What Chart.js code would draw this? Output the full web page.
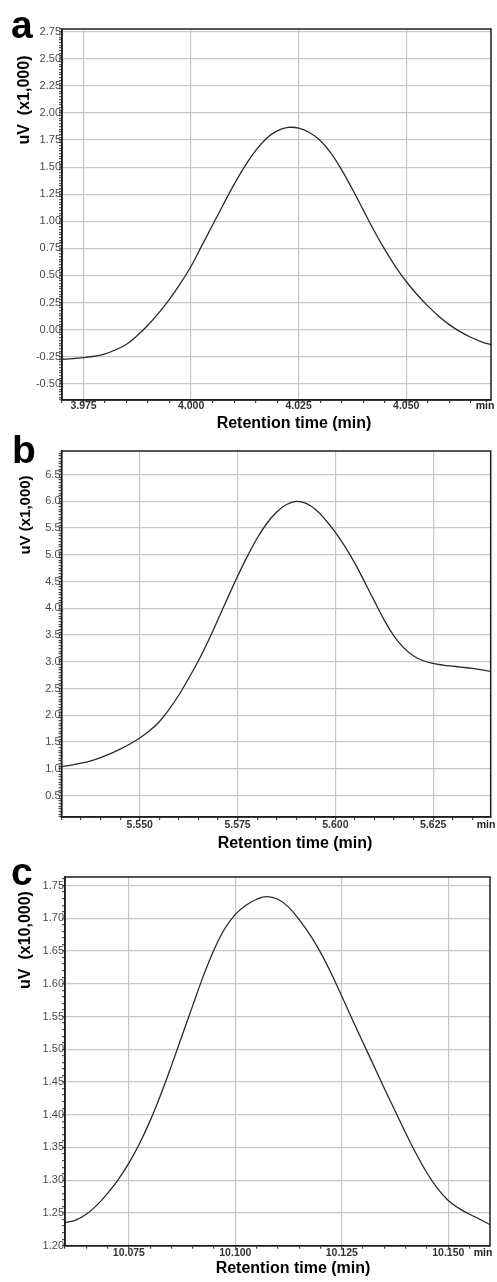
<!DOCTYPE html>
<html>
<head>
<meta charset="utf-8">
<script src="https://cdn.jsdelivr.net/npm/chart.js@4.4.1/dist/chart.umd.min.js"></script>
<style>
  html, body { margin: 0; padding: 0; background: #fff; }
  #wrap { position: relative; width: 497px; height: 1282px; }
  canvas { position: absolute; left: 0; }
  #chartA { top: 0; }
  #chartB { top: 430px; }
  #chartC { top: 860px; }
</style>
</head>
<body>
<div id="wrap">
  <canvas id="chartA" width="497" height="432"></canvas>
  <canvas id="chartB" width="497" height="430"></canvas>
  <canvas id="chartC" width="497" height="422"></canvas>
</div>
<script>
// panel a: retention time (min) vs signal (uV x1,000)
const timeA = [3.9700, 3.9725, 3.9750, 3.9775, 3.9800, 3.9825, 3.9850, 3.9875, 3.9900, 3.9925,
  3.9950, 3.9975, 4.0000, 4.0025, 4.0050, 4.0075, 4.0100, 4.0125, 4.0150, 4.0175,
  4.0200, 4.0225, 4.0250, 4.0275, 4.0300, 4.0325, 4.0350, 4.0375, 4.0400, 4.0425,
  4.0450, 4.0475, 4.0500, 4.0525, 4.0550, 4.0575, 4.0600, 4.0625, 4.0650, 4.0675, 4.0697];
const signalA = [-0.274, -0.268, -0.259, -0.246, -0.224, -0.186, -0.135, -0.055, 0.042, 0.155,
  0.282, 0.425, 0.585, 0.775, 0.965, 1.155, 1.340, 1.510, 1.652, 1.765,
  1.835, 1.866, 1.860, 1.820, 1.745, 1.630, 1.475, 1.295, 1.105, 0.915,
  0.740, 0.582, 0.444, 0.324, 0.219, 0.126, 0.046, -0.019, -0.071, -0.113, -0.140];

// panel b: uV x1,000
const timeB = [5.5300, 5.5325, 5.5350, 5.5375, 5.5400, 5.5425, 5.5450, 5.5475, 5.5500, 5.5525,
  5.5550, 5.5575, 5.5600, 5.5625, 5.5650, 5.5675, 5.5700, 5.5725, 5.5750, 5.5775,
  5.5800, 5.5825, 5.5850, 5.5875, 5.5900, 5.5925, 5.5950, 5.5975, 5.6000, 5.6025,
  5.6050, 5.6075, 5.6100, 5.6125, 5.6150, 5.6175, 5.6200, 5.6225, 5.6250, 5.6275,
  5.6300, 5.6325, 5.6350, 5.6375, 5.6397];
const signalB = [1.04, 1.07, 1.105, 1.15, 1.21, 1.285, 1.37, 1.465, 1.575, 1.71,
  1.88, 2.11, 2.38, 2.69, 3.02, 3.39, 3.79, 4.20, 4.60, 4.97,
  5.31, 5.59, 5.80, 5.94, 6.00, 5.96, 5.84, 5.65, 5.42, 5.15,
  4.84, 4.49, 4.13, 3.78, 3.48, 3.26, 3.11, 3.02, 2.97, 2.94,
  2.918, 2.898, 2.876, 2.849, 2.82];

// panel c: uV x10,000
const timeC = [10.0600, 10.0625, 10.0650, 10.0675, 10.0700, 10.0725, 10.0750, 10.0775, 10.0800, 10.0825,
  10.0850, 10.0875, 10.0900, 10.0925, 10.0950, 10.0975, 10.1000, 10.1025, 10.1050, 10.1074,
  10.1100, 10.1125, 10.1150, 10.1175, 10.1200, 10.1225, 10.1250, 10.1275, 10.1300, 10.1325,
  10.1350, 10.1375, 10.1400, 10.1425, 10.1450, 10.1475, 10.1500, 10.1525, 10.1550, 10.1575, 10.1598];
const signalC = [1.235, 1.239, 1.248, 1.262, 1.280, 1.301, 1.326, 1.356, 1.391, 1.431,
  1.475, 1.521, 1.567, 1.612, 1.652, 1.684, 1.706, 1.720, 1.729, 1.733,
  1.729, 1.717, 1.698, 1.675, 1.648, 1.616, 1.581, 1.545, 1.510, 1.475,
  1.440, 1.406, 1.372, 1.340, 1.311, 1.287, 1.269, 1.257, 1.248, 1.240, 1.232];

const xTitle = 'Retention time (min)';
const FONT = '"Liberation Sans", Arial, sans-serif';

function isMajor(v, step) {
  const r = v / step;
  return Math.abs(r - Math.round(r)) < 1e-6;
}

function fmt(v, dec) {
  return (Math.abs(v) < 1e-9 ? 0 : v).toFixed(dec);
}

// frame, panel letter, axis titles and the "min" unit label
const panelText = {
  id: 'panelText',
  afterDraw(chart, args, o) {
    const { ctx, chartArea: a } = chart;
    ctx.save();
    ctx.strokeStyle = '#1e1e1e';
    ctx.lineWidth = 1.5;
    ctx.strokeRect(a.left, a.top, a.right - a.left, a.bottom - a.top);

    ctx.fillStyle = '#000';
    ctx.textAlign = 'left';
    ctx.textBaseline = 'alphabetic';
    ctx.font = 'bold 39px ' + FONT;
    ctx.fillText(o.letter, o.letterX, o.letterY);

    ctx.textAlign = 'center';
    ctx.textBaseline = 'middle';
    ctx.font = 'bold 16px ' + FONT;
    ctx.fillText(xTitle, o.xTitleX, o.xTitleY);

    ctx.save();
    ctx.translate(o.yTitleX, o.yTitleY);
    ctx.rotate(-Math.PI / 2);
    ctx.font = 'bold ' + o.yTitleSize + 'px ' + FONT;
    ctx.fillText(o.yTitle, 0, 0);
    ctx.restore();

    ctx.fillStyle = '#222';
    ctx.font = 'bold 10.5px ' + FONT;
    ctx.fillText('min', o.minX, o.minY);
    ctx.restore();
  }
};

function makePanel(id, p) {
  const ctx = document.getElementById(id).getContext('2d');
  return new Chart(ctx, {
    type: 'line',
    data: {
      datasets: [{
        data: p.time.map((t, i) => ({ x: t, y: p.signal[i] })),
        borderColor: '#2a2a2a',
        borderWidth: 1.3,
        pointRadius: 0,
        fill: false,
        tension: 0.4
      }]
    },
    options: {
      responsive: false,
      animation: false,
      layout: { padding: { top: p.padTop, right: p.padRight, left: 0, bottom: 0 } },
      plugins: {
        legend: { display: false },
        tooltip: { enabled: false },
        panelText: p.text
      },
      scales: {
        x: {
          type: 'linear',
          min: p.xMin,
          max: p.xMax,
          ticks: {
            stepSize: 0.005,
            includeBounds: false,
            autoSkip: false,
            maxRotation: 0,
            padding: p.xPad,
            color: '#333',
            font: { family: FONT, size: 10.5, weight: 'bold' },
            callback: v => isMajor(v, 0.025) ? fmt(v, 3) : ''
          },
          grid: {
            color: c => isMajor(c.tick.value, 0.025) ? '#c8c8c8' : 'rgba(0,0,0,0)',
            tickColor: '#444',
            tickLength: 3,
            lineWidth: 1.2
          },
          border: { color: '#1e1e1e', width: 1.5 },
          afterFit: s => { s.height = p.xAxisH; }
        },
        y: {
          min: p.yMin,
          max: p.yMax,
          ticks: {
            stepSize: p.yMinor,
            includeBounds: false,
            autoSkip: false,
            padding: -2,
            color: '#4a4a4a',
            font: { family: FONT, size: 11 },
            callback: v => isMajor(v, p.yMajor) ? fmt(v, p.yDec) : ''
          },
          grid: {
            color: c => isMajor(c.tick.value, p.yMajor) ? '#c8c8c8' : 'rgba(0,0,0,0)',
            tickColor: '#555',
            tickLength: 3,
            lineWidth: 1.2
          },
          border: { color: '#1e1e1e', width: 1.5 },
          afterFit: s => { s.width = p.yAxisW; }
        }
      }
    },
    plugins: [panelText]
  });
}

makePanel('chartA', {
  time: timeA, signal: signalA,
  xMin: 3.970, xMax: 4.0697, yMin: -0.65, yMax: 2.775,
  yMinor: 0.025, yMajor: 0.25, yDec: 2,
  padTop: 29, padRight: 6, xAxisH: 32, yAxisW: 62, xPad: -3,
  text: { letter: 'a', letterX: 11, letterY: 38, yTitle: 'uV  (x1,000)', yTitleSize: 16,
    yTitleX: 25, yTitleY: 100, xTitleX: 294, xTitleY: 424, minX: 485, minY: 406.5 }
});

makePanel('chartB', {
  time: timeB, signal: signalB,
  xMin: 5.530, xMax: 5.6397, yMin: 0.1, yMax: 6.94,
  yMinor: 0.05, yMajor: 0.5, yDec: 1,
  padTop: 21, padRight: 6.3, xAxisH: 43, yAxisW: 61.5, xPad: -1,
  text: { letter: 'b', letterX: 12, letterY: 33, yTitle: 'uV (x1,000)', yTitleSize: 15,
    yTitleX: 26, yTitleY: 85, xTitleX: 295, xTitleY: 414, minX: 486, minY: 395.5 }
});

makePanel('chartC', {
  time: timeC, signal: signalC,
  xMin: 10.060, xMax: 10.1598, yMin: 1.20, yMax: 1.763,
  yMinor: 0.01, yMajor: 0.05, yDec: 2,
  padTop: 17, padRight: 7, xAxisH: 36.3, yAxisW: 65, xPad: -2,
  text: { letter: 'c', letterX: 11, letterY: 25, yTitle: 'uV  (x10,000)', yTitleSize: 16,
    yTitleX: 26, yTitleY: 80, xTitleX: 293, xTitleY: 409, minX: 483, minY: 393.5 }
});
</script>
</body>
</html>
